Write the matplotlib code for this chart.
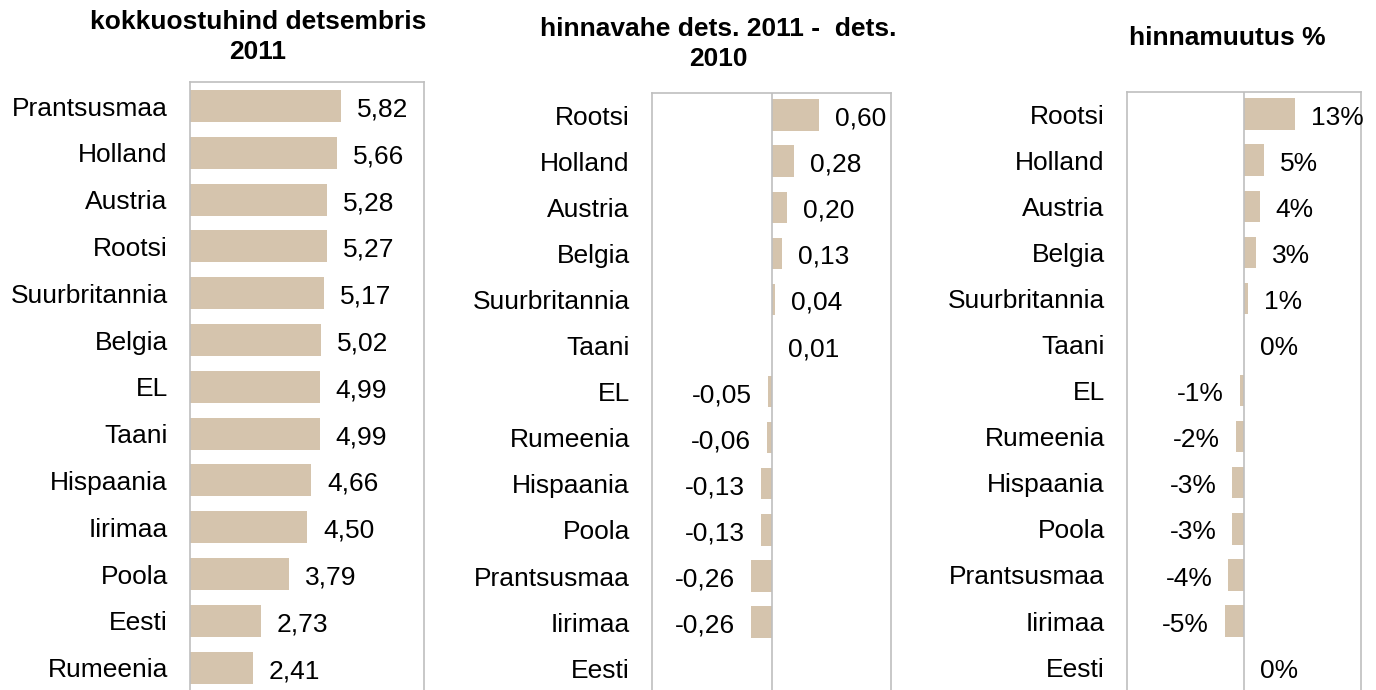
import matplotlib
matplotlib.use("Agg")
import matplotlib.pyplot as plt

plt.rcParams["font.family"] = ["Liberation Sans", "DejaVu Sans"]

# Purchase price, December 2011
price_countries = ["Prantsusmaa", "Holland", "Austria", "Rootsi", "Suurbritannia",
                   "Belgia", "EL", "Taani", "Hispaania", "Iirimaa", "Poola",
                   "Eesti", "Rumeenia"]
price_values = [5.82, 5.66, 5.28, 5.27, 5.17, 5.02, 4.99, 4.99, 4.66, 4.50,
                3.79, 2.73, 2.41]

# Price difference Dec 2011 - Dec 2010
diff_countries = ["Rootsi", "Holland", "Austria", "Belgia", "Suurbritannia",
                  "Taani", "EL", "Rumeenia", "Hispaania", "Poola",
                  "Prantsusmaa", "Iirimaa", "Eesti"]
diff_values = [0.60, 0.28, 0.20, 0.13, 0.04, 0.01, -0.05, -0.06, -0.13,
               -0.13, -0.26, -0.26, None]

# Price change, %
pct_countries = ["Rootsi", "Holland", "Austria", "Belgia", "Suurbritannia",
                 "Taani", "EL", "Rumeenia", "Hispaania", "Poola",
                 "Prantsusmaa", "Iirimaa", "Eesti"]
pct_values = [13, 5, 4, 3, 1, 0, -1, -2, -3, -3, -4, -5, 0]

titles = ["kokkuostuhind detsembris\n2011",
          "hinnavahe dets. 2011 -  dets.\n2010",
          "hinnamuutus %"]

W, H = 1376, 690
BAR = "#D5C4AD"
EDGE = "#BFBFBF"
FS = 19

fig = plt.figure(figsize=(W / 100, H / 100), dpi=100)


def make_axes(left, right, top, pitch, first_center, bottom=700):
    ax = fig.add_axes([left / W, 1 - bottom / H, (right - left) / W,
                       (bottom - top) / H])
    y_top = -(first_center - top) / pitch
    y_bot = y_top + (bottom - top) / pitch
    ax.set_ylim(y_bot, y_top)
    for s in ax.spines.values():
        s.set_color(EDGE)
        s.set_linewidth(1.2)
    ax.tick_params(axis="y", length=0, pad=16, labelsize=FS)
    ax.tick_params(axis="x", bottom=False, labelbottom=False)
    return ax


def draw_panel(ax, cats, vals, fmt, zero_line):
    ys = list(range(len(cats)))
    plotted = [0 if v is None else v for v in vals]
    ax.barh(ys, plotted, height=0.68, color=BAR, zorder=2)
    ax.set_yticks(ys)
    ax.set_yticklabels(cats)
    if zero_line:
        ax.axvline(0, color=EDGE, lw=1.2, zorder=3)
    for y, v in zip(ys, vals):
        if v is None:
            continue
        if v >= 0:
            ax.annotate(fmt(v), (v, y), xytext=(16, -1), textcoords="offset pixels",
                        ha="left", va="center_baseline", fontsize=FS)
        else:
            ax.annotate(fmt(v), (v, y), xytext=(-16, -1), textcoords="offset pixels",
                        ha="right", va="center_baseline", fontsize=FS)


def comma2(v):
    return f"{v:.2f}".replace(".", ",")


def pct(v):
    return f"{v:.0f}%"


ax1 = make_axes(190, 424, 82, 46.8, 106)
ax1.set_xlim(0, 9)
draw_panel(ax1, price_countries, price_values, comma2, False)

ax2 = make_axes(652, 891, 93, 46.1, 115)
ax2.set_xlim(-1.5, 1.5)
draw_panel(ax2, diff_countries, diff_values, comma2, True)

ax3 = make_axes(1127, 1361, 92, 46.1, 114)
ax3.set_xlim(-30, 30)
draw_panel(ax3, pct_countries, pct_values, pct, True)

for (x, y), t in zip([(258, 37), (718, 44), (1227, 38)], titles):
    fig.text(x / W, 1 - y / H, t, ha="center", va="center", fontsize=FS,
             fontweight="bold", linespacing=1.35)

fig.savefig("out.png", dpi=100)
